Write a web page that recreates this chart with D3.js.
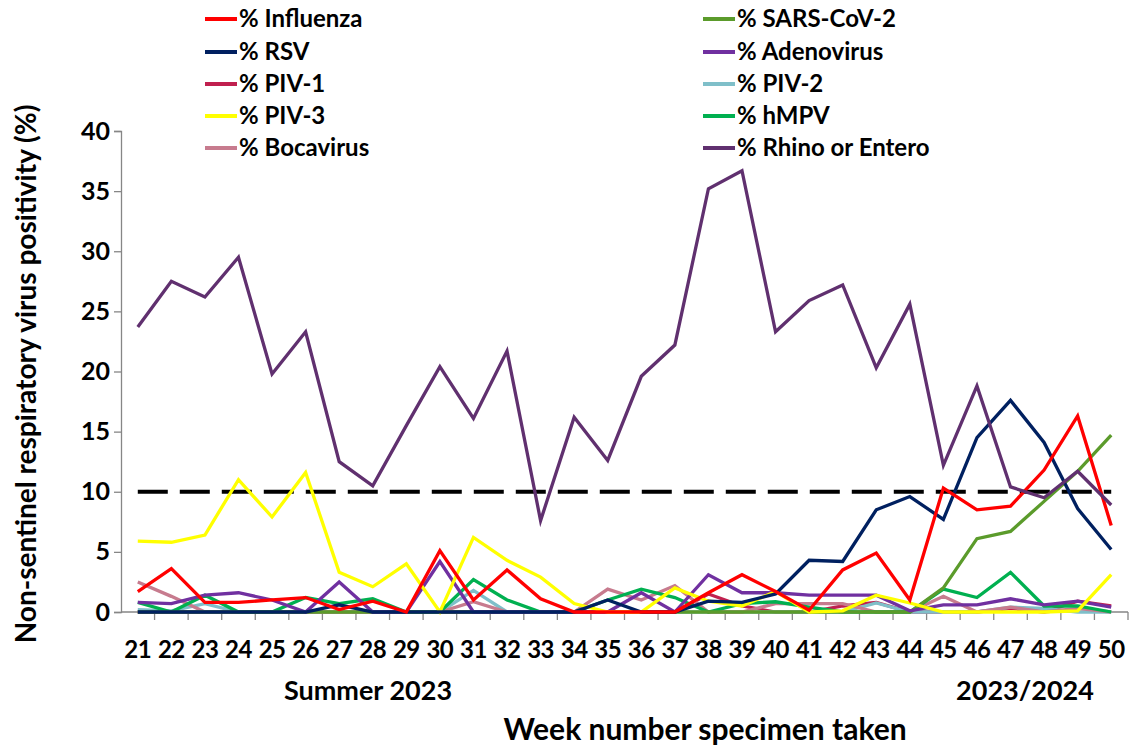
<!DOCTYPE html>
<html>
<head>
<meta charset="utf-8">
<script src="https://cdn.jsdelivr.net/npm/d3@7"></script>
<style>
  body { margin: 0; background: #fff; }
  text { font-family: Lato, "Open Sans", sans-serif; font-weight: bold; }
</style>
</head>
<body>
<div id="graf"></div>
<script>
// weeks 21..50
const weeks = d3.range(21, 51);

const influenza = [1.7, 3.6, 0.8, 0.8, 1.0, 1.2, 0.2, 0.9, 0, 5.1, 1.0, 3.5, 1.1, 0, 0, 0, 0, 1.6, 3.1, 1.7, 0.15, 3.5, 4.9, 1.0, 10.3, 8.5, 8.8, 11.8, 16.3, 7.2];
const sarsCov2  = [0, 0, 0, 0, 0, 0, 0, 0, 0, 0, 0, 0, 0, 0, 0, 0, 0, 0, 0, 0, 0, 0, 0, 0, 2.0, 6.1, 6.7, 9.2, 11.7, 14.7];
const rsv       = [0, 0, 0, 0, 0, 0, 0.6, 0, 0, 0, 0, 0, 0, 0, 1.0, 0, 0, 0.9, 0.8, 1.5, 4.3, 4.2, 8.5, 9.6, 7.7, 14.5, 17.6, 14.1, 8.6, 5.2];
const adeno     = [0.8, 0.7, 1.4, 1.6, 1.0, 0, 2.5, 0, 0, 4.2, 0, 0, 0, 0, 0, 1.6, 0, 3.1, 1.6, 1.6, 1.4, 1.4, 1.4, 0.1, 0.6, 0.6, 1.1, 0.6, 0.9, 0.4];
const piv1      = [0, 0, 0, 0, 0, 0, 0, 0, 0, 0, 0, 0, 0, 0, 0, 0, 0, 1.5, 0.5, 0, 0, 0.5, 0.8, 0, 0, 0, 0.3, 0, 0.9, 0.5];
const piv2      = [0.2, 0.1, 0.7, 0, 0, 0, 0, 0, 0, 0, 1.8, 0, 0, 0, 0, 0, 0, 0, 0, 0, 0, 0, 0.75, 0, 0, 0, 0.4, 0.3, 0, 0];
const piv3      = [5.9, 5.8, 6.4, 11.0, 7.9, 11.6, 3.3, 2.1, 4.0, 0, 6.2, 4.3, 2.9, 0.7, 0, 0, 2.0, 0.9, 0.5, 1.7, 0, 0.1, 1.4, 0.75, 0, 0, 0, 0, 0.1, 3.1];
const hmpv      = [0.8, 0, 1.4, 0, 0, 1.2, 0.7, 1.1, 0, 0, 2.7, 1.0, 0, 0, 1.0, 1.9, 1.2, 0, 0.7, 0.85, 0.4, 0, 0, 0, 1.9, 1.2, 3.3, 0.5, 0.5, 0];
const boca      = [2.5, 1.3, 0, 0, 0, 0, 0, 0, 0, 0, 0.85, 0, 0, 0, 1.9, 1.0, 2.2, 0, 0, 0.7, 0.7, 0.7, 0, 0, 1.3, 0, 0.4, 0, 0.3, 0];
const rhino     = [23.7, 27.5, 26.2, 29.5, 19.8, 23.3, 12.5, 10.5, 15.5, 20.4, 16.1, 21.7, 7.6, 16.2, 12.6, 19.6, 22.2, 35.2, 36.7, 23.3, 25.9, 27.2, 20.3, 25.6, 12.2, 18.8, 10.4, 9.5, 11.7, 8.9];
const threshold = 10;

const yTicks = [0, 5, 10, 15, 20, 25, 30, 35, 40];

const series = [
  { name: "% Influenza",       color: "#ff0000", values: influenza },
  { name: "% SARS-CoV-2",      color: "#5b9b2b", values: sarsCov2 },
  { name: "% RSV",             color: "#002060", values: rsv },
  { name: "% Adenovirus",      color: "#7030a0", values: adeno },
  { name: "% PIV-1",           color: "#c0204f", values: piv1 },
  { name: "% PIV-2",           color: "#7fbfc9", values: piv2 },
  { name: "% PIV-3",           color: "#ffff00", values: piv3 },
  { name: "% hMPV",            color: "#00b050", values: hmpv },
  { name: "% Bocavirus",       color: "#c77b8e", values: boca },
  { name: "% Rhino or Entero", color: "#60306f", values: rhino }
];

// drawing order: back to front
const drawOrder = ["% PIV-1", "% PIV-2", "% Bocavirus", "% hMPV", "% SARS-CoV-2", "% Adenovirus", "% PIV-3", "% RSV", "% Influenza", "% Rhino or Entero"];

const width = 1132, height = 748;
const left = 121, right = 1128;

const svg = d3.select("#graf").append("svg")
  .attr("width", width).attr("height", height);

const x = d3.scaleBand().domain(weeks).range([left, right]);
const y = d3.scaleLinear().domain([0, 40]).range([612, 131]);
const cx = w => x(w) + x.bandwidth() / 2;

// y axis
const yAxis = svg.append("g")
  .attr("transform", `translate(${left},0)`)
  .call(d3.axisLeft(y).tickValues(yTicks).tickSize(7).tickPadding(4));
yAxis.select(".domain").attr("stroke", "#868686").attr("stroke-width", 1.3);
yAxis.selectAll(".tick line").attr("stroke", "#868686").attr("stroke-width", 1.3);
yAxis.selectAll(".tick text").attr("font-size", 25).attr("fill", "#000")
  .style("font-family", "Lato, sans-serif").style("font-weight", "bold");

// x axis with ticks between bands
const xg = svg.append("g").attr("transform", `translate(0,${y(0)})`);
xg.append("line").attr("x1", left).attr("x2", right)
  .attr("stroke", "#868686").attr("stroke-width", 1.3);
xg.selectAll(".xt").data(weeks).join("line")
  .attr("x1", (d, i) => left + (i + 1) * x.step())
  .attr("x2", (d, i) => left + (i + 1) * x.step())
  .attr("y1", 0).attr("y2", 8)
  .attr("stroke", "#868686").attr("stroke-width", 1.3);
xg.selectAll(".xl").data(weeks).join("text")
  .attr("x", d => cx(d)).attr("y", 46)
  .attr("text-anchor", "middle").attr("font-size", 24).attr("fill", "#000")
  .attr("letter-spacing", -0.5)
  .text(d => d);

svg.append("text").attr("x", 368).attr("y", 700).attr("text-anchor", "middle")
  .attr("font-size", 27).text("Summer 2023");
svg.append("text").attr("x", 1025).attr("y", 700).attr("text-anchor", "middle")
  .attr("font-size", 27).text("2023/2024");
svg.append("text").attr("x", 705).attr("y", 740).attr("text-anchor", "middle")
  .attr("font-size", 30).text("Week number specimen taken");
svg.append("text")
  .attr("transform", `translate(36,374) rotate(-90)`)
  .attr("text-anchor", "middle").attr("font-size", 28)
  .text("Non-sentinel respiratory virus positivity (%)");

// threshold dashed line
svg.append("line")
  .attr("x1", cx(weeks[0])).attr("x2", cx(weeks[weeks.length - 1]))
  .attr("y1", y(threshold)).attr("y2", y(threshold))
  .attr("stroke", "#000").attr("stroke-width", 4)
  .attr("stroke-dasharray", "30,12");

const line = d3.line().x((d, i) => cx(weeks[i])).y(d => y(d));

svg.append("g").selectAll("path")
  .data(drawOrder.map(n => series.find(s => s.name === n)))
  .join("path")
  .attr("d", d => line(d.values))
  .attr("fill", "none")
  .attr("stroke", d => d.color)
  .attr("stroke-width", 3.3)
  .attr("stroke-linejoin", "miter");

// legend: two columns, five rows
const legend = svg.append("g");
const rowY = [19, 52, 84, 116, 148];
series.forEach((s, i) => {
  const col = i % 2, row = Math.floor(i / 2);
  const lx = col === 0 ? 205 : 703;
  const g = legend.append("g").attr("transform", `translate(${lx},${rowY[row]})`);
  g.append("line").attr("x1", 0).attr("x2", 32).attr("y1", 0).attr("y2", 0)
    .attr("stroke", s.color).attr("stroke-width", 4);
  g.append("text").attr("x", 34).attr("y", 8).attr("font-size", 24).text(s.name);
});
</script>
</body>
</html>
